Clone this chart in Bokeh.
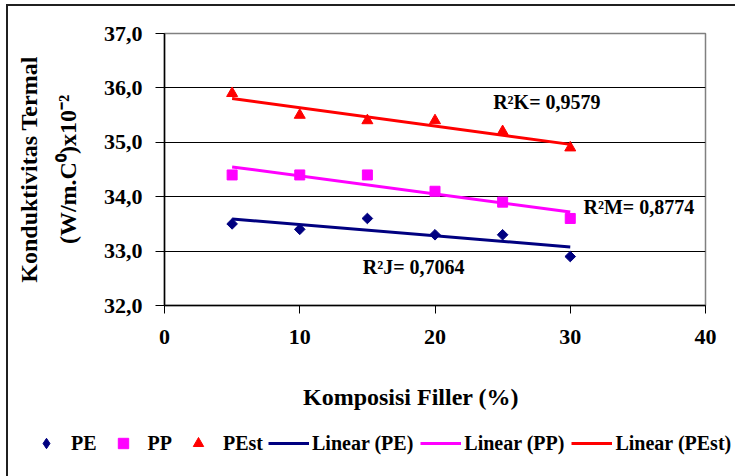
import numpy as np
from bokeh.plotting import figure
from bokeh.layouts import column
from bokeh.models import Range1d, FixedTicker, Label, Legend, LegendItem, LinearAxis
from bokeh.embed import file_html
from bokeh.resources import INLINE

# ---- data ----
filler = [5, 10, 15, 20, 25, 30]
pe = [33.5, 33.4, 33.6, 33.3, 33.3, 32.9]
pp = [34.4, 34.4, 34.4, 34.1, 33.9, 33.6]
pest = [35.9, 35.5, 35.4, 35.4, 35.2, 34.9]

series_names = ["PE", "PP", "PEst"]
trend_names = ["Linear (PE)", "Linear (PP)", "Linear (PEst)"]
colors = ["#000080", "#FF00FF", "#FF0000"]

x_ticks = [0, 10, 20, 30, 40]
y_ticks = [32, 33, 34, 35, 36, 37]
y_tick_labels = ["32,0", "33,0", "34,0", "35,0", "36,0", "37,0"]

r2_texts = ["R²J= 0,7064", "R²M= 0,8774", "R²K= 0,9579"]

x_title = "Komposisi Filler (%)"
y_title_1 = "Konduktivitas Termal"
y_title_2 = "(W/m.C⁰)x10⁻²"

FONT = "Liberation Serif"
series = [pe, pp, pest]
markers = ["diamond", "square", "triangle"]
sizes = [13, 10, 11]


def no_frame_align(fig):
    if "frame_align" in fig.properties():
        fig.frame_align = False


# ---------------- main chart ----------------
p = figure(width=727, height=419, output_backend="svg", toolbar_location=None,
           x_range=Range1d(0, 40), y_range=Range1d(32, 37),
           min_border_left=156, min_border_right=30, min_border_top=27,
           min_border_bottom=120)
no_frame_align(p)
p.background_fill_color = "white"
p.border_fill_color = "white"
p.outline_line_color = "#808080"
p.outline_line_width = 1.5

p.xaxis.ticker = FixedTicker(ticks=x_ticks)
p.yaxis.ticker = FixedTicker(ticks=y_ticks)
p.yaxis.major_label_overrides = {t: l for t, l in zip(y_ticks, y_tick_labels)}
for ax in (p.xaxis, p.yaxis):
    ax.axis_line_color = "black"
    ax.axis_line_width = 1.5
    ax.major_tick_line_color = "black"
    ax.major_tick_in = 0
    ax.minor_tick_line_color = None
    ax.major_label_text_font = FONT
    ax.major_label_text_font_style = "bold"
    ax.major_label_text_font_size = "22px"
    ax.major_label_text_color = "black"
    ax.axis_label_text_font = FONT
    ax.axis_label_text_font_style = "bold"
    ax.axis_label_text_font_size = "24px"
    ax.axis_label_text_color = "black"
p.yaxis.major_tick_out = 9
p.yaxis.major_label_standoff = 13
p.xaxis.major_tick_out = 8
p.xaxis.major_label_standoff = 16

p.xaxis.axis_label = x_title + "\u2003\u2003"
p.xaxis.axis_label_standoff = 37
p.yaxis.axis_label = y_title_2
p.yaxis.axis_label_standoff = 20

outer = LinearAxis(ticker=FixedTicker(ticks=[]), axis_line_color=None,
                   major_tick_line_color=None, minor_tick_line_color=None,
                   major_tick_out=0, major_tick_in=0, major_label_standoff=0,
                   axis_label=y_title_1, axis_label_standoff=10,
                   axis_label_text_font=FONT, axis_label_text_font_style="bold",
                   axis_label_text_font_size="24px", axis_label_text_color="black")
p.add_layout(outer, "left")

p.xgrid.grid_line_color = None
p.ygrid.ticker = FixedTicker(ticks=y_ticks[1:-1])
p.ygrid.grid_line_color = "black"
p.ygrid.grid_line_width = 1

xs = np.array(filler, dtype=float)
fits = []
for ys, c in zip(series, colors):
    k, b = np.polyfit(xs, np.array(ys), 1)
    xl = [filler[0], filler[-1]]
    yl = [k * filler[0] + b, k * filler[-1] + b]
    fits.append((xl, yl))
    p.line(xl, yl, line_color=c, line_width=3)
for ys, c, m, s in zip(series, colors, markers, sizes):
    if m == "diamond":
        p.scatter(filler, ys, marker="square", size=7.5, angle=np.pi / 4,
                  fill_color=c, line_color=c)
    else:
        p.scatter(filler, ys, marker=m, size=s, fill_color=c, line_color=c)

r2_pos = [(14.66, 32.70), (30.98, 33.81), (24.3, 35.735)]
for t, (x, y) in zip(r2_texts, r2_pos):
    p.add_layout(Label(x=x, y=y, text=t, text_font=FONT, text_font_style="bold",
                       text_font_size="20px", text_align="left",
                       text_baseline="middle", text_color="black"))

# ---------------- legend row ----------------
q = figure(width=727, height=51, output_backend="svg", toolbar_location=None,
           x_range=Range1d(100, 101), y_range=Range1d(100, 101),
           x_axis_location=None, y_axis_location=None,
           min_border=0, min_border_left=0, min_border_right=0,
           min_border_top=0, min_border_bottom=0)
no_frame_align(q)
q.grid.grid_line_color = None
q.outline_line_color = None
q.background_fill_color = "white"
q.border_fill_color = "white"

marker_rends = []
for ys, c, m in zip(series, colors, markers):
    marker_rends.append(q.scatter(filler, ys, marker=m, size=10, fill_color=c, line_color=c))
line_rends = []
for (xl, yl), c in zip(fits, colors):
    line_rends.append(q.line(xl, yl, line_color=c, line_width=3))


def add_legend(names, rends, loc, gw, standoff, spacing):
    items = [LegendItem(label=n, renderers=[r]) for n, r in zip(names, rends)]
    lg = Legend(items=items, location=loc, orientation="horizontal", nrows=1,
                glyph_width=gw, glyph_height=26, label_height=26,
                label_standoff=standoff, spacing=spacing, padding=0, margin=0,
                border_line_color=None, background_fill_alpha=0,
                label_text_font=FONT, label_text_font_style="bold",
                label_text_font_size="20px", label_text_color="black")
    q.add_layout(lg, "center")


add_legend(series_names, marker_rends, (23, 20), 30, 10, 11)
add_legend(trend_names, line_rends, (260, 20), 41, 3, 7)

layout = column(p, q, spacing=0,
                styles={"margin-left": "6px", "margin-top": "4px",
                        "border-left": "2px solid #202020",
                        "border-top": "2px solid #202020"})
open("out.html", "w").write(file_html(layout, INLINE))
